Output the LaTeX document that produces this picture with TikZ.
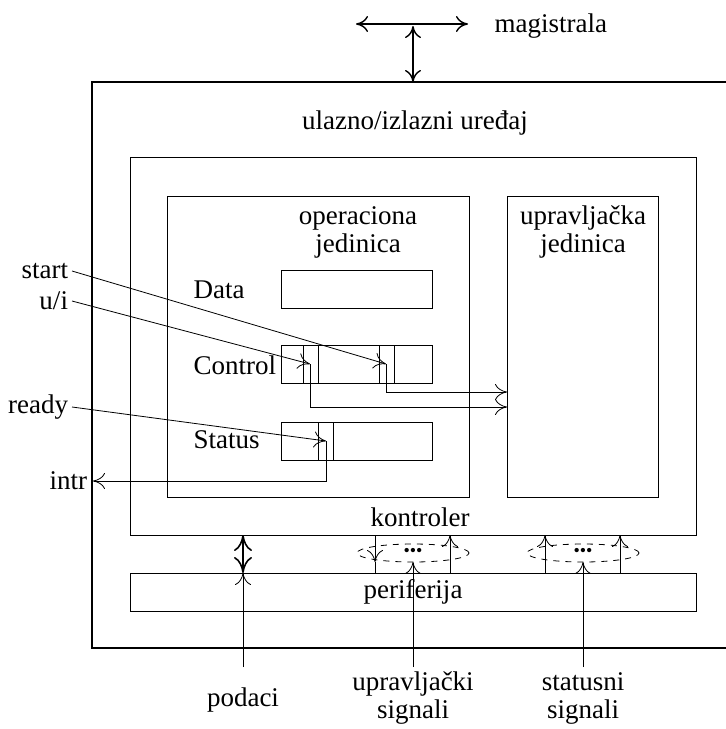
\documentclass[tikz,border=0pt]{standalone}
\usepackage{fontspec}
\setmainfont{Liberation Serif}
\usetikzlibrary{shapes.geometric,arrows.meta,positioning}

\begin{document}
\begin{tikzpicture}[x=0.5pt, y=-0.5pt, outer sep=0pt,
    font=\fontsize{13.5}{14}\selectfont,
    box/.style={rectangle, draw, inner sep=0pt},
    reg/.style={rectangle, draw, inner sep=0pt, minimum width=75.5pt, minimum height=19pt},
    lbl/.style={anchor=east, inner sep=2pt},
    sig/.style={-{To[length=6pt,width=8pt]}},
    bisig/.style={{To[length=6pt,width=8pt]}-{To[length=6pt,width=8pt]}},
    bus/.style={draw, dashed, ellipse, inner sep=0pt, minimum width=56pt, minimum height=9pt}]
\useasboundingbox (0,0) rectangle (726,729);

% ulazno/izlazni uredjaj (desna ivica van slike)
\draw[line width=0.9pt] (730,82) -| (92,648) -- (730,648);
\node (uiu) at (415,123) {ulazno/izlazni uređaj};

% magistrala
\coordinate (busL) at (356,24);
\coordinate (busR) at (468,24);
\coordinate (busJ) at (413,26);
\coordinate (devT) at (413,82);
\draw[bisig, line width=0.7pt] (busL) -- (busR);
\draw[bisig, line width=0.7pt] (devT) -- (busJ);
\node[anchor=west] (mag) at (488,26) {magistrala};

% kontroler i jedinice
\node[box, minimum width=283pt, minimum height=189pt] (ctl) at (413,346) {};
\node[box, minimum width=151pt, minimum height=150.5pt] (opj) at (318.5,346.5) {};
\node[box, minimum width=75.5pt, minimum height=150.5pt] (upj) at (582.5,346.5) {};
\node[align=center] (opjt) at (358,232) {operaciona\\jedinica};
\node[align=center] (upjt) at (583,232) {upravljačka\\jedinica};
\node (ctlt) at (420,517) {kontroler};

% registri
\node[reg] (dr) at (356.5,289.5) {};
\node[reg] (cr) at (356.5,364) {};
\node[reg] (sr) at (356.5,441) {};
\foreach \d in {22,37,98,113}
    \draw (cr.north west) ++(\d,0) -- ++(0,38);
\foreach \d in {37,52}
    \draw (sr.north west) ++(\d,0) -- ++(0,38);
\node[anchor=west] (drt) at (187,290) {Data};
\node[anchor=west] (crt) at (187,365) {Control};
\node[anchor=west] (srt) at (187,440) {Status};

% spoljni signali
\node[lbl] (start) at (72,271) {start};
\node[lbl] (ui) at (72,301) {u/i};
\node[lbl] (ready) at (72,407) {ready};
\node[lbl, inner sep=3pt] (intr) at (93,481) {intr};

\coordinate (bU) at (310,364);
\coordinate (bS) at (386,364);
\coordinate (bR) at (326,441);
\coordinate (inS) at (507,392);
\coordinate (inU) at (507,407);

\draw[sig] (start.east) -- (bS);
\draw[sig] (bS) |- (inS);
\draw[sig] (ui.east) -- (bU);
\draw[sig] (bU) |- (inU);
\draw[sig] (ready.east) -- (bR);
\draw[sig] (bR) |- (intr.east);

% periferija
\node[box, minimum width=283pt, minimum height=19pt] (per) at (413,592) {periferija};
\node[bus] (cb) at (413,553) {};
\node[bus] (sb) at (583,553) {};
\node (cbd) at (413,552) {\fontsize{9}{9}\selectfont •••};
\node (sbd) at (583,552) {\fontsize{9}{9}\selectfont •••};

\coordinate (c1) at (375,535);
\coordinate (c2) at (450,535);
\coordinate (c3) at (545,535);
\coordinate (c4) at (620,535);
\draw[sig] (c1) -- (c1 |- cb.south);
\draw (c1 |- cb.south) -- (c1 |- per.north);
\draw[sig] (c2 |- per.north) -- (c2);
\draw[sig] (c3 |- per.north) -- (c3);
\draw[sig] (c4 |- per.north) -- (c4);

\coordinate (pd) at (243,667);
\coordinate (us) at (413,667);
\coordinate (ss) at (583,667);
\draw[sig] (pd) -- (pd |- per.north);
\draw[{To[length=8pt,width=9pt]}-{To[length=8pt,width=9pt]}, line width=0.8pt]
    (pd |- per.north) -- (pd |- ctl.south);
\draw[sig] (us) -- (cb.south);
\draw[sig] (ss) -- (sb.south);

\node (podaci) at (243,700) {podaci};
\node[align=center] (ust) at (413,698) {upravljački\\signali};
\node[align=center] (sst) at (583,698) {statusni\\signali};
\end{tikzpicture}
\end{document}
